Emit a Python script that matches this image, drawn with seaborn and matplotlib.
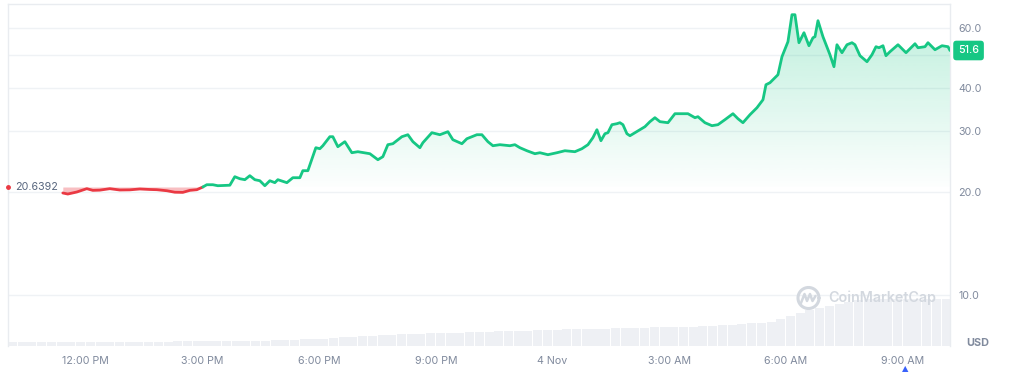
import numpy as np
import pandas as pd
import matplotlib
matplotlib.use("Agg")
import matplotlib.pyplot as plt
from matplotlib.lines import Line2D
import seaborn as sns

# ---------------- data ----------------
# time in hours since 3 Nov 00:00 (24 = 4 Nov 00:00)
price_hours = [
    11.409, 11.537, 11.769, 12.026, 12.180, 12.360, 12.617, 12.874, 13.131, 13.389,
    13.646, 13.826, 14.083, 14.289, 14.494, 14.674, 14.854, 15.009, 15.111, 15.266,
    15.394, 15.703, 15.831, 15.960, 16.089, 16.217, 16.346, 16.474, 16.603, 16.731,
    16.860, 16.937, 17.169, 17.323, 17.503, 17.580, 17.709, 17.914, 18.017, 18.094,
    18.274, 18.351, 18.480, 18.660, 18.840, 18.994, 19.303, 19.509, 19.637, 19.766,
    19.894, 20.126, 20.280, 20.409, 20.589, 20.666, 20.897, 21.103, 21.309, 21.437,
    21.669, 21.797, 22.054, 22.183, 22.337, 22.466, 22.646, 22.903, 23.031, 23.160,
    23.340, 23.546, 23.674, 23.880, 24.111, 24.317, 24.574, 24.754, 24.909, 25.037,
    25.140, 25.243, 25.346, 25.423, 25.526, 25.654, 25.731, 25.809, 25.911, 25.989,
    26.117, 26.246, 26.374, 26.503, 26.631, 26.760, 26.966, 27.146, 27.326, 27.480,
    27.660, 27.737, 27.917, 28.097, 28.251, 28.431, 28.637, 28.766, 28.894, 29.074,
    29.254, 29.409, 29.486, 29.589, 29.794, 29.897, 30.051, 30.154, 30.231, 30.334,
    30.463, 30.591, 30.694, 30.746, 30.823, 30.951, 31.131, 31.234, 31.311, 31.440,
    31.569, 31.697, 31.774, 31.903, 32.083, 32.211, 32.314, 32.391, 32.494, 32.571,
    32.674, 32.880, 33.086, 33.317, 33.394, 33.574, 33.651, 33.831, 34.011, 34.166,
    34.217,
]
price_values = [
    19.83, 19.69, 19.96, 20.41, 20.18, 20.21, 20.41, 20.23, 20.25, 20.37,
    20.30, 20.27, 20.13, 19.93, 19.91, 20.18, 20.27, 20.64, 20.96, 20.96,
    20.82, 20.89, 22.12, 21.82, 21.68, 22.27, 21.68, 21.53, 20.82, 21.53,
    21.25, 21.68, 21.25, 21.97, 21.97, 23.03, 23.03, 26.87, 26.69, 27.23,
    28.93, 28.93, 27.05, 27.98, 25.98, 26.16, 25.81, 24.79, 25.30, 27.42,
    27.60, 28.93, 29.32, 27.98, 26.87, 27.79, 29.72, 29.32, 29.92, 28.35,
    27.60, 28.54, 29.32, 29.32, 27.98, 27.23, 27.42, 27.23, 27.42, 26.87,
    26.33, 25.81, 25.98, 25.64, 25.98, 26.33, 26.16, 26.69, 27.42, 28.74,
    30.32, 28.16, 29.52, 29.72, 31.36, 31.57, 31.78, 31.36, 29.52, 29.12,
    29.72, 30.32, 30.94, 32.00, 32.87, 32.00, 31.78, 33.76, 33.76, 33.76,
    32.87, 33.09, 31.78, 31.15, 31.36, 32.43, 33.76, 32.64, 31.78, 33.53,
    35.14, 37.08, 41.01, 41.57, 43.86, 49.49, 54.73, 65.61, 65.61, 54.37,
    58.14, 53.28, 56.22, 56.60, 63.02, 56.60, 50.16, 46.28, 53.64, 50.84,
    53.64, 54.37, 53.64, 49.83, 47.86, 50.16, 52.93, 52.57, 53.28, 49.83,
    51.18, 53.64, 50.84, 54.00, 52.57, 52.93, 54.37, 51.87, 53.28, 52.93,
    51.60,
]
open_price = 20.6392
last_price = 51.6

# volume bars: one every 15 min starting 10:00 (relative heights)
volume_start = 10.0
volume_step = 0.25
volume_values = [
    3.8, 3.8, 3.8, 3.8, 3.9, 3.9, 3.9, 4.0, 4.0, 4.1,
    4.1, 4.2, 4.2, 4.3, 4.4, 4.5, 4.5, 4.6, 4.7, 4.8,
    4.9, 5.0, 5.1, 5.2, 5.3, 5.4, 5.5, 5.6, 5.8, 6.2,
    6.6, 7.0, 7.4, 8.0, 8.6, 9.2, 9.8, 10.5, 10.9, 11.3,
    11.6, 11.9, 12.2, 12.6, 12.9, 13.2, 13.5, 13.8, 14.1, 14.4,
    14.7, 15.0, 15.2, 15.5, 15.8, 16.0, 16.3, 16.6, 16.8, 17.1,
    17.3, 17.5, 17.7, 17.9, 18.2, 18.4, 18.6, 18.8, 19.0, 19.3,
    19.5, 19.8, 20.3, 20.8, 21.3, 21.9, 22.6, 23.2, 24.5, 27.0,
    30.0, 33.0, 36.0, 38.0, 40.0, 42.0, 44.5, 46.5, 47.0, 47.2,
    47.3, 47.4, 47.5, 47.5, 47.5, 47.5, 47.5,
]

x_ticks = [12, 15, 18, 21, 24, 27, 30, 33]
x_tick_labels = ["12:00 PM", "3:00 PM", "6:00 PM", "9:00 PM", "4 Nov",
                 "3:00 AM", "6:00 AM", "9:00 AM"]
y_ticks = [10, 20, 30, 40, 50, 60]
y_tick_labels = ["10.0", "20.0", "30.0", "40.0", "", "60.0"]

# ---------------- style ----------------
GREEN = "#16c784"
RED = "#ea3943"
GRID = "#eff2f5"
LABEL = "#808a9d"
DARK_LABEL = "#58667e"

sns.set_theme(style="white")
plt.rcParams["font.family"] = ["Inter", "DejaVu Sans"]

W, H = 1011, 372
fig = plt.figure(figsize=(W / 100, H / 100), dpi=100)
ax_left, ax_right, ax_top, ax_bottom = 8, 950, 4, 346
ax = fig.add_axes([ax_left / W, (H - ax_bottom) / H,
                   (ax_right - ax_left) / W, (ax_bottom - ax_top) / H])
ax.set_yscale("log")
ax.set_ylim(7.10, 70.5)
ax.set_xlim(10.0, 34.217)

df = pd.DataFrame({"t": price_hours, "p": price_values})
split = int(np.argmin(np.abs(df["t"].values - 15.009)))
red_df = df.iloc[: split + 1]
green_df = df.iloc[split:]

# volume on twin axis
ax2 = ax.twinx()
vol_t = volume_start + volume_step * np.arange(len(volume_values))
ax2.bar(vol_t, volume_values, width=volume_step * 0.93, align="edge",
        color="#eef0f4", linewidth=0)
ax2.set_ylim(0, ax_bottom - ax_top)
ax2.set_yticks([])
for s in ax2.spines.values():
    s.set_visible(False)
ax2.set_zorder(0)
ax.set_zorder(1)
ax.patch.set_visible(False)

# fills
ax.fill_between(red_df["t"], red_df["p"], open_price, color=RED, alpha=0.32,
                linewidth=0)
poly = ax.fill_between(green_df["t"], green_df["p"], open_price,
                       facecolor="none", linewidth=0)
base_frac = (np.log(open_price) - np.log(7.10)) / (np.log(70.5) - np.log(7.10))
yy = np.linspace(0, 1, 400)
alpha = np.clip((yy - base_frac) / (1 - base_frac), 0, 1) * 0.28 + 0.01
grad = np.zeros((400, 1, 4))
grad[..., 0] = 22 / 255
grad[..., 1] = 199 / 255
grad[..., 2] = 132 / 255
grad[:, 0, 3] = alpha
im = ax.imshow(grad, extent=[0, 1, 0, 1], transform=ax.transAxes,
               origin="lower", aspect="auto", interpolation="bilinear", zorder=1)
path = poly.get_paths()[0]
im.set_clip_path(path, transform=ax.transData)

# lines
sns.lineplot(data=red_df, x="t", y="p", color=RED, linewidth=2, ax=ax,
             sort=False, estimator=None, zorder=3)
sns.lineplot(data=green_df, x="t", y="p", color=GREEN, linewidth=2, ax=ax,
             sort=False, estimator=None, zorder=3)
ax.set_xlim(10.0, 34.217)
ax.set_ylim(7.10, 70.5)

# axes styling
ax.set_xlabel("")
ax.set_ylabel("")
ax.yaxis.set_minor_locator(matplotlib.ticker.NullLocator())
ax.set_yticks(y_ticks)
ax.set_yticklabels(y_tick_labels)
ax.yaxis.tick_right()
ax.tick_params(axis="y", length=0, pad=5.8, labelsize=7.7, labelcolor=LABEL)
ax.set_xticks(x_ticks)
ax.set_xticklabels(x_tick_labels)
ax.tick_params(axis="x", length=0, pad=7.5, labelsize=7.7, labelcolor=LABEL)
ax.grid(True, axis="y", color=GRID, linewidth=1)
ax.grid(False, axis="x")
for side in ["left", "right", "top"]:
    ax.spines[side].set_visible(True)
    ax.spines[side].set_color("#e9ecf0")
    ax.spines[side].set_linewidth(1)
ax.spines["bottom"].set_visible(False)

# open price marker & label
ax.plot([10.0], [open_price], marker="o", ms=2.5, color=RED, clip_on=False,
        zorder=5)
ax.text(10.18, open_price, "20.6392", ha="left", va="center", fontsize=7.7,
        color=DARK_LABEL, zorder=5)

# last price tag
ax.annotate(f"{last_price}", xy=(1, last_price),
            xycoords=("axes fraction", "data"), xytext=(5.8, 0),
            textcoords="offset points", ha="left", va="center",
            fontsize=7.7, color="white", fontweight="medium",
            bbox=dict(boxstyle="round,pad=0.45,rounding_size=0.3",
                      fc=GREEN, ec="none"),
            annotation_clip=False, zorder=6)

# USD label
fig.text(978 / W, 1 - 343 / H, "USD", ha="center", va="center",
         fontsize=7.8, fontweight="bold", color=LABEL)

# watermark
WM = "#d3d8df"
fig.text(828 / W, 1 - 298 / H, "CoinMarketCap", ha="left", va="center",
         fontsize=10.3, fontweight="semibold", color=WM)
th = np.linspace(0, 2 * np.pi, 80)
fig.add_artist(Line2D((808.5 + 10.5 * np.cos(th)) / W,
                      1 - (298 + 10.5 * np.sin(th)) / H,
                      color=WM, lw=2.2, transform=fig.transFigure))
mx = np.array([801, 804.5, 807, 810, 812.5, 815.5])
my = np.array([303, 294, 301, 294, 301, 296])
fig.add_artist(Line2D(mx / W, 1 - my / H, color=WM, lw=1.8,
                      transform=fig.transFigure))

# small navigation marker
fig.text(905 / W, 1 - 369 / H, "\u25B2", ha="center", va="center",
         fontsize=6, color="#3861fb", family="DejaVu Sans")

fig.savefig("out.png", dpi=100)
